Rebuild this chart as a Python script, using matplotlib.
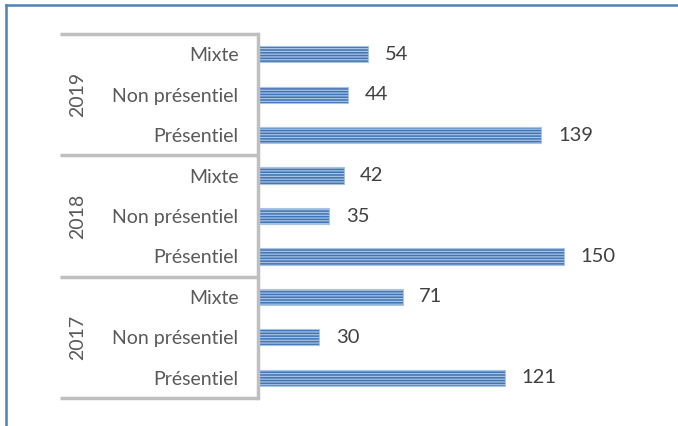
import matplotlib.pyplot as plt
from matplotlib.lines import Line2D

plt.rcParams['font.family'] = ['Lato', 'DejaVu Sans']

years = ['2017', '2018', '2019']
categories = ['Présentiel', 'Non présentiel', 'Mixte']
values_2017 = [121, 30, 71]
values_2018 = [150, 35, 42]
values_2019 = [139, 44, 54]

values = values_2017 + values_2018 + values_2019
labels = categories * 3
pos = list(range(len(values)))

grey = '#595959'
line_grey = '#BFBFBF'

fig = plt.figure(figsize=(6.78, 4.26), dpi=100)
ax = fig.add_axes([258 / 678, 28 / 426, 326 / 678, 364 / 426])

plt.rcParams['hatch.linewidth'] = 0.9
bars = ax.barh(pos, values, height=0.4, facecolor='#3F74B5', edgecolor='#A9C3E3',
               linewidth=0.8)
for b in bars:
    b.set_hatch('-' * 6)

for y, v in zip(pos, values):
    ax.annotate(str(v), (v, y), xytext=(12, 0), textcoords='offset points',
                va='center', ha='left', fontsize=14.5, color='#404040')

ax.set_xlim(0, 160)
ax.set_ylim(-0.5, 8.5)
ax.set_yticks(pos)
ax.set_yticklabels(labels, fontsize=14, color=grey)
ax.tick_params(axis='y', length=0, pad=14)
ax.set_xticks([])
for s in ['top', 'right', 'bottom']:
    ax.spines[s].set_visible(False)
ax.spines['left'].set_color(line_grey)
ax.spines['left'].set_linewidth(2.5)

# group separators and year labels
tr = ax.get_yaxis_transform()
for i, yr in enumerate(years):
    ax.plot([-0.607, 0], [i * 3 - 0.5] * 2, transform=tr, color=line_grey,
            lw=2.5, clip_on=False, solid_capstyle='butt')
    ax.text(-0.552, i * 3 + 1, yr, transform=tr, rotation=90, ha='center',
            va='center', fontsize=14, color=grey)
ax.plot([-0.607, 0], [8.5, 8.5], transform=tr, color=line_grey, lw=2.5,
        clip_on=False, solid_capstyle='butt')

# chart frame (left and top edges)
fig.add_artist(Line2D([5.5 / 678, 5.5 / 678], [0, 1 - 4.5 / 426], color='#4F81BD', lw=1.8))
fig.add_artist(Line2D([5.5 / 678, 1], [1 - 4.5 / 426, 1 - 4.5 / 426], color='#4F81BD', lw=1.8))

fig.savefig('out.png', dpi=100)
